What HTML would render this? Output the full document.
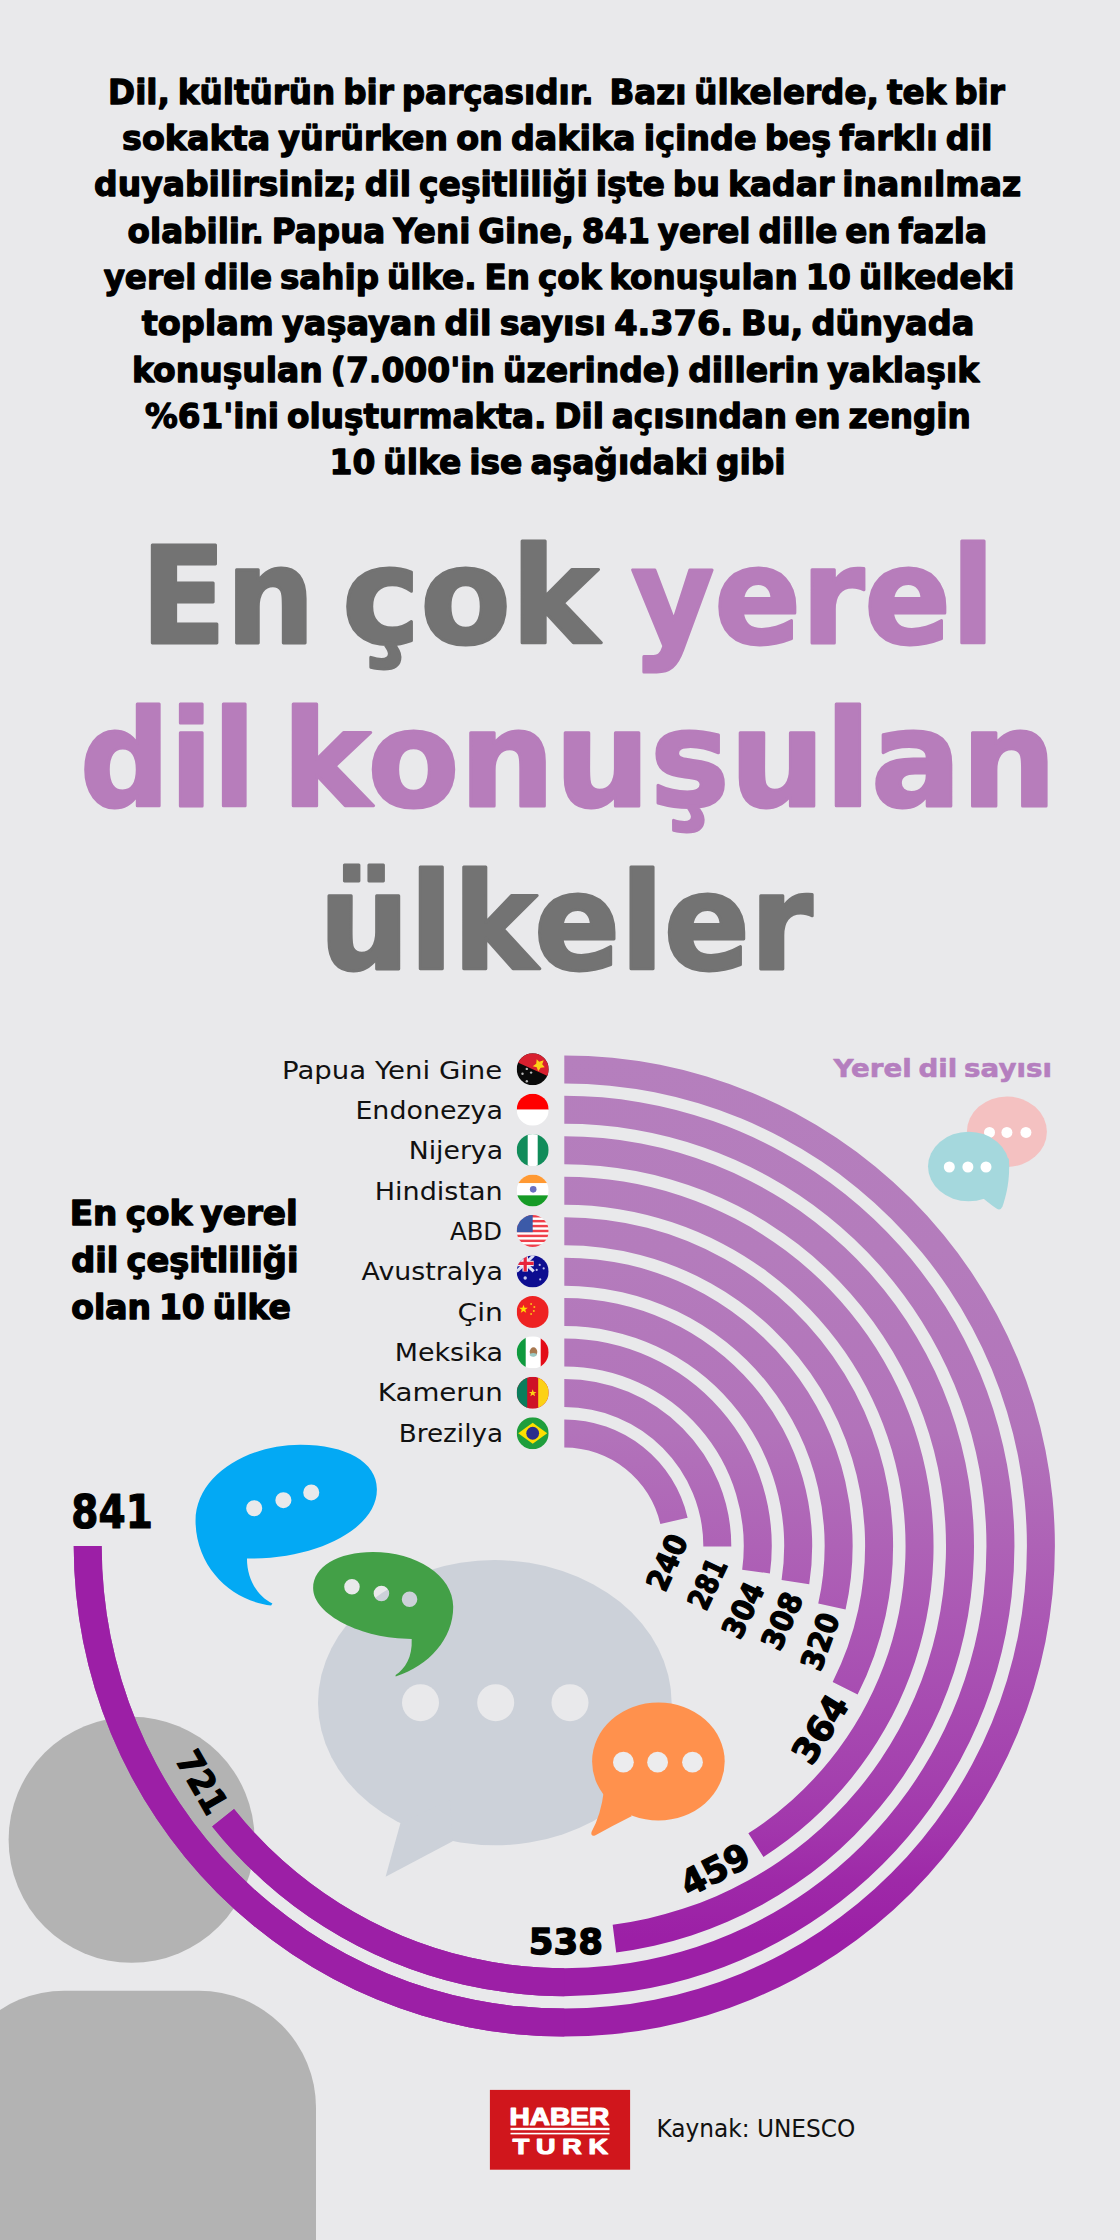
<!DOCTYPE html>
<html lang="tr"><head><meta charset="utf-8"><title>En çok yerel dil konuşulan ülkeler</title>
<style>
html,body{margin:0;padding:0}
body{width:1120px;height:2240px;background:#e9e9eb;position:relative;overflow:hidden;font-family:"DejaVu Sans","Liberation Sans",sans-serif}
svg{position:absolute;left:0;top:0;display:block}
text{white-space:pre}
</style></head><body>
<svg width="1120" height="2240" viewBox="0 0 1120 2240">
<defs>
<clipPath id="arcclip"><path d="M564.30 1055.40A490.60 490.60 0 0 1 1054.90 1546.00A490.60 490.60 0 0 1 564.30 2036.60A490.60 490.60 0 0 1 73.70 1546.00L101.70 1546.00A462.60 462.60 0 0 0 564.30 2008.60A462.60 462.60 0 0 0 1026.90 1546.00A462.60 462.60 0 0 0 564.30 1083.40Z M564.30 1095.85A450.15 450.15 0 0 1 1003.19 1445.95A450.15 450.15 0 0 1 759.40 1951.68A450.15 450.15 0 0 1 212.13 1826.38L234.04 1808.94A422.15 422.15 0 0 0 747.26 1926.44A422.15 422.15 0 0 0 975.89 1452.17A422.15 422.15 0 0 0 564.30 1123.85Z M564.30 1136.30A409.70 409.70 0 0 1 973.17 1520.00A409.70 409.70 0 0 1 616.20 1952.40L612.65 1924.63A381.70 381.70 0 0 0 945.23 1521.78A381.70 381.70 0 0 0 564.30 1164.30Z M564.30 1176.75A369.25 369.25 0 0 1 918.67 1442.24A369.25 369.25 0 0 1 763.46 1856.94L748.35 1833.36A341.25 341.25 0 0 0 891.80 1450.11A341.25 341.25 0 0 0 564.30 1204.75Z M564.30 1217.20A328.80 328.80 0 0 1 844.44 1373.86A328.80 328.80 0 0 1 857.62 1694.56L832.65 1681.91A300.80 300.80 0 0 0 820.58 1388.52A300.80 300.80 0 0 0 564.30 1245.20Z M564.30 1257.65A288.35 288.35 0 0 1 789.55 1365.98A288.35 288.35 0 0 1 845.56 1609.56L818.25 1603.39A260.35 260.35 0 0 0 767.68 1383.46A260.35 260.35 0 0 0 564.30 1285.65Z M564.30 1298.10A247.90 247.90 0 0 1 752.64 1384.81A247.90 247.90 0 0 1 809.23 1584.28L781.56 1579.95A219.90 219.90 0 0 0 731.37 1403.01A219.90 219.90 0 0 0 564.30 1326.10Z M564.30 1338.55A207.45 207.45 0 0 1 720.39 1409.35A207.45 207.45 0 0 1 769.93 1573.43L742.17 1569.73A179.45 179.45 0 0 0 699.32 1427.80A179.45 179.45 0 0 0 564.30 1366.55Z M564.30 1379.00A167.00 167.00 0 0 1 682.61 1428.13A167.00 167.00 0 0 1 731.30 1546.62L703.30 1546.52A139.00 139.00 0 0 0 662.77 1447.90A139.00 139.00 0 0 0 564.30 1407.00Z M564.30 1419.45A126.55 126.55 0 0 1 687.63 1517.64L660.34 1523.92A98.55 98.55 0 0 0 564.30 1447.45Z"/></clipPath>
<linearGradient id="ag" gradientUnits="userSpaceOnUse" x1="0" y1="1055" x2="0" y2="2240"><stop offset="0.0000" stop-color="#b57fbd"/><stop offset="0.1646" stop-color="#b47cbc"/><stop offset="0.3190" stop-color="#b273ba"/><stop offset="0.4143" stop-color="#ae62b6"/><stop offset="0.5274" stop-color="#a84fb2"/><stop offset="0.6118" stop-color="#a440ae"/><stop offset="0.6540" stop-color="#a236ac"/><stop offset="0.6962" stop-color="#9e29a8"/><stop offset="0.7468" stop-color="#9c1fa6"/><stop offset="1.0000" stop-color="#9c1fa6"/></linearGradient>
</defs>
<!-- person silhouette -->
<circle cx="131.6" cy="1839.8" r="123" fill="#b3b3b3"/>
<rect x="-52.8" y="1990.7" width="368.8" height="520" rx="117" ry="117" fill="#b3b3b3"/>

<!-- radial bars -->
<g clip-path="url(#arcclip)">
<rect x="0" y="1000" width="1120" height="1100" fill="url(#ag)"/>
<rect x="0" y="1530" width="564.3" height="570" fill="#9c1fa6"/>
</g>
<!-- flags -->
<defs><clipPath id="fc"><circle cx="0" cy="0" r="16"/></clipPath></defs>
<g transform="translate(532.7 1069.20)" clip-path="url(#fc)"><rect x="-16" y="-16" width="32" height="32" fill="#0a0a0a"/><path d="M-16 -7.300L16 7.300V-16H-16Z" fill="#d8202f"/><path d="M4 -10l2.500 2.500 4.500-1.500-1.500 4 2.500 3-4 .5-2.500 3.500-1.500-4-4-1 3.500-2.500z" fill="#fcd116"/><circle cx="-5.900" cy="-0.300" r="1.200" fill="#bbb"/><circle cx="-10.200" cy="4.500" r="1.200" fill="#bbb"/><circle cx="-1.600" cy="3.400" r="1.200" fill="#bbb"/><circle cx="-5.900" cy="12" r="1.200" fill="#bbb"/></g>
<g transform="translate(532.7 1109.65)" clip-path="url(#fc)"><rect x="-16" y="-16" width="32" height="16" fill="#ff0000"/><rect x="-16" y="0" width="32" height="16" fill="#fff"/></g>
<g transform="translate(532.7 1150.10)" clip-path="url(#fc)"><rect x="-16" y="-16" width="32" height="32" fill="#118c5a"/><rect x="-5" y="-16" width="10" height="32" fill="#fff"/></g>
<g transform="translate(532.7 1190.55)" clip-path="url(#fc)"><rect x="-16" y="-16" width="32" height="32" fill="#fff"/><rect x="-16" y="-16" width="32" height="8.500" fill="#ff9933"/><rect x="-16" y="4.800" width="32" height="11.200" fill="#169b26"/><circle cx="0.500" cy="-1.200" r="3.300" fill="#6a70c0"/></g>
<g transform="translate(532.7 1231.00)" clip-path="url(#fc)"><rect x="-16" y="-16" width="32" height="32" fill="#fff"/><rect x="-16" y="-16.00" width="32" height="2.460" fill="#ef3f4a"/><rect x="-16" y="-11.08" width="32" height="2.460" fill="#ef3f4a"/><rect x="-16" y="-6.16" width="32" height="2.460" fill="#ef3f4a"/><rect x="-16" y="-1.24" width="32" height="2.460" fill="#ef3f4a"/><rect x="-16" y="3.68" width="32" height="2.460" fill="#ef3f4a"/><rect x="-16" y="8.60" width="32" height="2.460" fill="#ef3f4a"/><rect x="-16" y="13.52" width="32" height="2.460" fill="#ef3f4a"/><rect x="-16" y="-16" width="16" height="17.200" fill="#3c5aa8"/></g>
<g transform="translate(532.7 1271.45)" clip-path="url(#fc)"><rect x="-16" y="-16" width="32" height="32" fill="#0d0d90"/><g><path d="M-16 -16L1 0M1 -16L-16 0" stroke="#dfe0f5" stroke-width="3"/><path d="M-7.500 -16V0M-16 -8H1" stroke="#f1f1fa" stroke-width="5.500"/><path d="M-7.500 -16V0M-16 -8H1" stroke="#e8243c" stroke-width="3.200"/></g><circle cx="-7.500" cy="6.500" r="1.700" fill="#c9cbee"/><circle cx="7" cy="-6.500" r="1.100" fill="#b9bbe8"/><circle cx="11" cy="-3" r="1.100" fill="#b9bbe8"/><circle cx="4" cy="-1.500" r="1.100" fill="#b9bbe8"/><circle cx="7.500" cy="8" r="1.100" fill="#b9bbe8"/></g>
<g transform="translate(532.7 1311.90)" clip-path="url(#fc)"><rect x="-16" y="-16" width="32" height="32" fill="#ee2222"/><path d="M-9.200 -7.200l1.100 3 3.200 0-2.600 2 1 3.100-2.700-1.900-2.700 1.900 1-3.100-2.600-2 3.200 0z" fill="#ffde00"/><circle cx="-1.600" cy="-8" r="1" fill="#f9c016"/><circle cx="1.600" cy="-4.800" r="1" fill="#f9c016"/><circle cx="1.100" cy="-1" r="1" fill="#f9c016"/><circle cx="-1.600" cy="2.100" r="1" fill="#f9c016"/></g>
<g transform="translate(532.7 1352.35)" clip-path="url(#fc)"><rect x="-16" y="-16" width="32" height="32" fill="#fff"/><rect x="-16" y="-16" width="9" height="32" fill="#0f9a3e"/><rect x="8" y="-16" width="8" height="32" fill="#e30b17"/><ellipse cx="0.800" cy="-0.500" rx="3.800" ry="4.500" fill="#a87850"/><ellipse cx="0.500" cy="2.500" rx="3.500" ry="1.800" fill="#9cc9c4"/></g>
<g transform="translate(532.7 1392.80)" clip-path="url(#fc)"><rect x="-16" y="-16" width="32" height="32" fill="#ce1126"/><rect x="-16" y="-16" width="10.500" height="32" fill="#0a7d5c"/><rect x="5.500" y="-16" width="10.500" height="32" fill="#fcd116"/><path d="M0 -3.500l1 2.600 2.800 0-2.200 1.700 0.800 2.700-2.400-1.600-2.400 1.600 0.800-2.700-2.200-1.700 2.800 0z" fill="#fcd116"/></g>
<g transform="translate(532.7 1433.25)" clip-path="url(#fc)"><rect x="-16" y="-16" width="32" height="32" fill="#1f9e3c"/><path d="M-14.500 0L0 -10.500L14.500 0L0 10.500Z" fill="#fedf00"/><circle cx="0" cy="0" r="6.400" fill="#2b2d8c"/></g>

<!-- speech bubbles -->
<!-- pink + teal small bubbles -->
<ellipse cx="1006.9" cy="1131.7" rx="40" ry="35.2" fill="#f4c1c1"/>
<circle cx="989.5" cy="1132.4" r="5.5" fill="#fff"/><circle cx="1006.9" cy="1132.4" r="5.5" fill="#fff"/><circle cx="1025.9" cy="1132.4" r="5.5" fill="#fff"/>
<ellipse cx="968.6" cy="1166.5" rx="40.6" ry="34.8" fill="#a5d8dd"/>
<path d="M1008.8 1158C1010.500 1180 1006 1196 1002.500 1206.500Q1000.500 1211 996.500 1208.500Q989 1203.500 978 1194Z" fill="#a5d8dd"/>
<circle cx="949.3" cy="1167" r="5.500" fill="#fff"/><circle cx="967.9" cy="1167" r="5.500" fill="#fff"/><circle cx="986" cy="1167" r="5.500" fill="#fff"/>
<!-- big grey bubble -->
<ellipse cx="494.8" cy="1702.7" rx="176.8" ry="142.6" fill="#ccd1d9"/>
<path d="M400.4 1823.2L385.6 1876.7L452.7 1841.3L450 1800Z" fill="#ccd1d9"/>
<circle cx="420.500" cy="1702.700" r="18.500" fill="#e9e9eb"/><circle cx="495.700" cy="1702.700" r="18.500" fill="#e9e9eb"/><circle cx="570" cy="1702.700" r="18.500" fill="#e9e9eb"/>
<!-- orange bubble -->
<ellipse cx="658.400" cy="1761.500" rx="66.300" ry="58.900" fill="#ff914d"/>
<path d="M604 1790Q601 1815 591.500 1832Q590.500 1836.500 595 1835.500Q612 1826 632 1816Z" fill="#ff914d"/>
<circle cx="623.400" cy="1762.200" r="10.400" fill="#ececee"/><circle cx="657.600" cy="1762.200" r="10.400" fill="#ececee"/><circle cx="692.500" cy="1762.200" r="10.400" fill="#ececee"/>
<!-- blue + green bubbles (coords in zoom px) -->
<g transform="translate(180 1430) scale(0.26786)">
<path fill-rule="evenodd" fill="#03a9f4" d="M340 655C200 640 60 520 58 340C58 170 250 55 450 55C620 55 735 120 735 220C738 365 515 484 250 480C250 560 290 620 345 648ZM247 292a30 30 0 1 0 60 0a30 30 0 1 0 -60 0zM356 262a30 30 0 1 0 60 0a30 30 0 1 0 -60 0zM460 233a30 30 0 1 0 60 0a30 30 0 1 0 -60 0z"/>
<path fill-rule="evenodd" fill="#43a047" d="M805 920C930 880 1020 780 1020 660C1020 540 880 455 720 455C590 455 497 510 497 590C497 690 680 780 865 780C868 850 840 890 805 915ZM613 585a29 29 0 1 0 58 0a29 29 0 1 0 -58 0zM723 610a29 29 0 1 0 58 0a29 29 0 1 0 -58 0zM828 632a29 29 0 1 0 58 0a29 29 0 1 0 -58 0z"/>
</g>

<!-- logo -->
<rect x="489.9" y="2089.9" width="140.2" height="79.8" fill="#d0161c"/>
<rect x="510.5" y="2127.8" width="99" height="2.4" fill="#fff"/>
<rect x="510.5" y="2132.8" width="99" height="1.6" fill="#fff"/>
<!-- texts -->
<text font-family="'DejaVu Sans', sans-serif" font-weight="700" font-size="33.63" fill="#000" xml:space="preserve" stroke="#000" stroke-width="1.3" stroke-linejoin="round" word-spacing="-3.53" transform="translate(108.08 103.8) scale(0.9702 1)">Dil, kültürün bir parçasıdır.  Bazı ülkelerde, tek bir</text>
<text font-family="'DejaVu Sans', sans-serif" font-weight="700" font-size="33.63" fill="#000" xml:space="preserve" stroke="#000" stroke-width="1.3" stroke-linejoin="round" word-spacing="-3.53" transform="translate(122.08 150.2) scale(0.9921 1)">sokakta yürürken on dakika içinde beş farklı dil</text>
<text font-family="'DejaVu Sans', sans-serif" font-weight="700" font-size="33.63" fill="#000" xml:space="preserve" stroke="#000" stroke-width="1.3" stroke-linejoin="round" word-spacing="-3.53" transform="translate(94.11 196.4) scale(0.9808 1)">duyabilirsiniz; dil çeşitliliği işte bu kadar inanılmaz</text>
<text font-family="'DejaVu Sans', sans-serif" font-weight="700" font-size="33.63" fill="#000" xml:space="preserve" stroke="#000" stroke-width="1.3" stroke-linejoin="round" word-spacing="-3.53" transform="translate(127.61 242.7) scale(0.9699 1)">olabilir. Papua Yeni Gine, 841 yerel dille en fazla</text>
<text font-family="'DejaVu Sans', sans-serif" font-weight="700" font-size="33.63" fill="#000" xml:space="preserve" stroke="#000" stroke-width="1.3" stroke-linejoin="round" word-spacing="-3.53" transform="translate(103.63 289.1) scale(0.9693 1)">yerel dile sahip ülke. En çok konuşulan 10 ülkedeki</text>
<text font-family="'DejaVu Sans', sans-serif" font-weight="700" font-size="33.63" fill="#000" xml:space="preserve" stroke="#000" stroke-width="1.3" stroke-linejoin="round" word-spacing="-3.53" transform="translate(141.65 335.4) scale(0.9973 1)">toplam yaşayan dil sayısı 4.376. Bu, dünyada</text>
<text font-family="'DejaVu Sans', sans-serif" font-weight="700" font-size="33.63" fill="#000" xml:space="preserve" stroke="#000" stroke-width="1.3" stroke-linejoin="round" word-spacing="-3.53" transform="translate(132.06 381.6) scale(0.9808 1)">konuşulan (7.000'in üzerinde) dillerin yaklaşık</text>
<text font-family="'DejaVu Sans', sans-serif" font-weight="700" font-size="33.63" fill="#000" xml:space="preserve" stroke="#000" stroke-width="1.3" stroke-linejoin="round" word-spacing="-3.53" transform="translate(145.11 427.9) scale(0.9724 1)">%61'ini oluşturmakta. Dil açısından en zengin</text>
<text font-family="'DejaVu Sans', sans-serif" font-weight="700" font-size="33.63" fill="#000" xml:space="preserve" stroke="#000" stroke-width="1.3" stroke-linejoin="round" word-spacing="-3.53" transform="translate(329.54 474.2) scale(0.9782 1)">10 ülke ise aşağıdaki gibi</text>
<text font-family="'DejaVu Sans', sans-serif" font-weight="700" font-size="134.13" fill="#737373" xml:space="preserve" stroke="#737373" stroke-width="3" stroke-linejoin="round" transform="translate(140.63 642.5) scale(0.9320 1)">En</text>
<text font-family="'DejaVu Sans', sans-serif" font-weight="700" font-size="134.13" fill="#737373" xml:space="preserve" stroke="#737373" stroke-width="3" stroke-linejoin="round" transform="translate(342.05 642.5) scale(0.9849 1)">çok</text>
<text font-family="'DejaVu Sans', sans-serif" font-weight="700" font-size="134.13" fill="#b77dbb" xml:space="preserve" stroke="#b77dbb" stroke-width="3" stroke-linejoin="round" transform="translate(630.93 642.5) scale(0.9542 1)">yerel</text>
<text font-family="'DejaVu Sans', sans-serif" font-weight="700" font-size="134.13" fill="#b77dbb" xml:space="preserve" stroke="#b77dbb" stroke-width="3" stroke-linejoin="round" transform="translate(79.98 806.0) scale(0.9353 1)">dil</text>
<text font-family="'DejaVu Sans', sans-serif" font-weight="700" font-size="134.13" fill="#b77dbb" xml:space="preserve" stroke="#b77dbb" stroke-width="3" stroke-linejoin="round" transform="translate(282.04 806.0) scale(0.9981 1)">konuşulan</text>
<text font-family="'DejaVu Sans', sans-serif" font-weight="700" font-size="134.13" fill="#737373" xml:space="preserve" stroke="#737373" stroke-width="3" stroke-linejoin="round" transform="translate(318.99 968.5) scale(0.9474 1)">ülkeler</text>
<text font-family="'DejaVu Sans', sans-serif" font-weight="700" font-size="33.50" fill="#000" xml:space="preserve" stroke="#000" stroke-width="1.4" stroke-linejoin="round" word-spacing="-3.52" transform="translate(69.64 1225.3) scale(1.0208 1)">En çok yerel</text>
<text font-family="'DejaVu Sans', sans-serif" font-weight="700" font-size="33.50" fill="#000" xml:space="preserve" stroke="#000" stroke-width="1.4" stroke-linejoin="round" word-spacing="-3.52" transform="translate(71.25 1272.3) scale(1.0033 1)">dil çeşitliliği</text>
<text font-family="'DejaVu Sans', sans-serif" font-weight="700" font-size="33.50" fill="#000" xml:space="preserve" stroke="#000" stroke-width="1.4" stroke-linejoin="round" word-spacing="-3.52" transform="translate(71.26 1319.1) scale(0.9844 1)">olan 10 ülke</text>
<text font-family="'DejaVu Sans', sans-serif" font-weight="700" font-size="46.43" fill="#000" xml:space="preserve" stroke="#000" stroke-width="1.2" stroke-linejoin="round" transform="translate(71.37 1527.6) scale(0.8406 1)">841</text>
<text font-family="'DejaVu Sans', sans-serif" font-weight="400" font-size="24.51" fill="#111" xml:space="preserve" transform="translate(282.12 1078.8) scale(1.1239 1)">Papua Yeni Gine</text>
<text font-family="'DejaVu Sans', sans-serif" font-weight="400" font-size="24.51" fill="#111" xml:space="preserve" transform="translate(355.38 1119.1) scale(1.0976 1)">Endonezya</text>
<text font-family="'DejaVu Sans', sans-serif" font-weight="400" font-size="24.51" fill="#111" xml:space="preserve" transform="translate(408.70 1159.4) scale(1.0894 1)">Nijerya</text>
<text font-family="'DejaVu Sans', sans-serif" font-weight="400" font-size="24.51" fill="#111" xml:space="preserve" transform="translate(374.66 1199.7) scale(1.1041 1)">Hindistan</text>
<text font-family="'DejaVu Sans', sans-serif" font-weight="400" font-size="24.51" fill="#111" xml:space="preserve" transform="translate(450.00 1240.0) scale(0.9942 1)">ABD</text>
<text font-family="'DejaVu Sans', sans-serif" font-weight="400" font-size="24.51" fill="#111" xml:space="preserve" transform="translate(361.60 1280.3) scale(1.0953 1)">Avustralya</text>
<text font-family="'DejaVu Sans', sans-serif" font-weight="400" font-size="24.51" fill="#111" xml:space="preserve" transform="translate(457.58 1320.6) scale(1.1487 1)">Çin</text>
<text font-family="'DejaVu Sans', sans-serif" font-weight="400" font-size="24.51" fill="#111" xml:space="preserve" transform="translate(394.68 1360.9) scale(1.0975 1)">Meksika</text>
<text font-family="'DejaVu Sans', sans-serif" font-weight="400" font-size="24.51" fill="#111" xml:space="preserve" transform="translate(377.81 1401.2) scale(1.1291 1)">Kamerun</text>
<text font-family="'DejaVu Sans', sans-serif" font-weight="400" font-size="24.51" fill="#111" xml:space="preserve" transform="translate(398.84 1441.5) scale(1.0693 1)">Brezilya</text>
<text font-family="'DejaVu Sans', sans-serif" font-weight="700" font-size="24.37" fill="#b57fbf" xml:space="preserve" stroke="#b57fbf" stroke-width="0.6" stroke-linejoin="round" word-spacing="-2.56" transform="translate(833.57 1076.8) scale(1.1371 1)">Yerel dil sayısı</text>
<text font-family="'DejaVu Sans', sans-serif" font-weight="400" font-size="24.51" fill="#111" xml:space="preserve" transform="translate(656.42 2136.7) scale(0.9495 1)">Kaynak: UNESCO</text>
<text font-family="'Liberation Sans', sans-serif" font-weight="700" font-size="23.89" fill="#fff" xml:space="preserve" stroke="#fff" stroke-width="1.2" stroke-linejoin="round" transform="translate(509.45 2124.9) scale(1.1757 1)">HABER</text>
<text font-family="'Liberation Sans', sans-serif" font-weight="700" font-size="22.47" fill="#fff" xml:space="preserve" stroke="#fff" stroke-width="1.2" stroke-linejoin="round" letter-spacing="5.68" transform="translate(512.72 2153.8) scale(1.2 1)">TURK</text>
<text font-family="'DejaVu Sans', sans-serif" font-weight="700" font-size="30.23" fill="#000" xml:space="preserve" stroke="#000" stroke-width="1.3" stroke-linejoin="round" transform="translate(666.8 1561.8) rotate(-66) scale(0.9204 1)" x="-32.13" y="11.10">240</text>
<text font-family="'DejaVu Sans', sans-serif" font-weight="700" font-size="30.23" fill="#000" xml:space="preserve" stroke="#000" stroke-width="1.3" stroke-linejoin="round" transform="translate(707.1 1583.4) rotate(-65) scale(0.8282 1)" x="-31.90" y="11.10">281</text>
<text font-family="'DejaVu Sans', sans-serif" font-weight="700" font-size="30.23" fill="#000" xml:space="preserve" stroke="#000" stroke-width="1.3" stroke-linejoin="round" transform="translate(742.8 1609.8) rotate(-64) scale(0.9133 1)" x="-31.90" y="11.10">304</text>
<text font-family="'DejaVu Sans', sans-serif" font-weight="700" font-size="30.23" fill="#000" xml:space="preserve" stroke="#000" stroke-width="1.3" stroke-linejoin="round" transform="translate(781.6 1620.6) rotate(-66) scale(0.9368 1)" x="-31.66" y="11.10">308</text>
<text font-family="'DejaVu Sans', sans-serif" font-weight="700" font-size="30.23" fill="#000" xml:space="preserve" stroke="#000" stroke-width="1.3" stroke-linejoin="round" transform="translate(819.8 1641.0) rotate(-70) scale(0.9214 1)" x="-31.90" y="11.10">320</text>
<text font-family="'DejaVu Sans', sans-serif" font-weight="700" font-size="35.68" fill="#000" xml:space="preserve" stroke="#000" stroke-width="1.3" stroke-linejoin="round" transform="translate(820.0 1728.5) rotate(-58) scale(0.9843 1)" x="-37.65" y="13.10">364</text>
<text font-family="'DejaVu Sans', sans-serif" font-weight="700" font-size="35.68" fill="#000" xml:space="preserve" stroke="#000" stroke-width="1.3" stroke-linejoin="round" transform="translate(714.5 1869.2) rotate(-27) scale(0.9768 1)" x="-36.81" y="13.10">459</text>
<text font-family="'DejaVu Sans', sans-serif" font-weight="700" font-size="35.68" fill="#000" xml:space="preserve" stroke="#000" stroke-width="1.3" stroke-linejoin="round" transform="translate(566.1 1940.8) rotate(0) scale(0.9976 1)" x="-37.37" y="13.10">538</text>
<text font-family="'DejaVu Sans', sans-serif" font-weight="700" font-size="35.00" fill="#000" xml:space="preserve" stroke="#000" stroke-width="1.3" stroke-linejoin="round" transform="translate(202.5 1782.0) rotate(60) scale(0.9113 1)" x="-36.65" y="12.85">721</text>
</svg>
</body></html>
